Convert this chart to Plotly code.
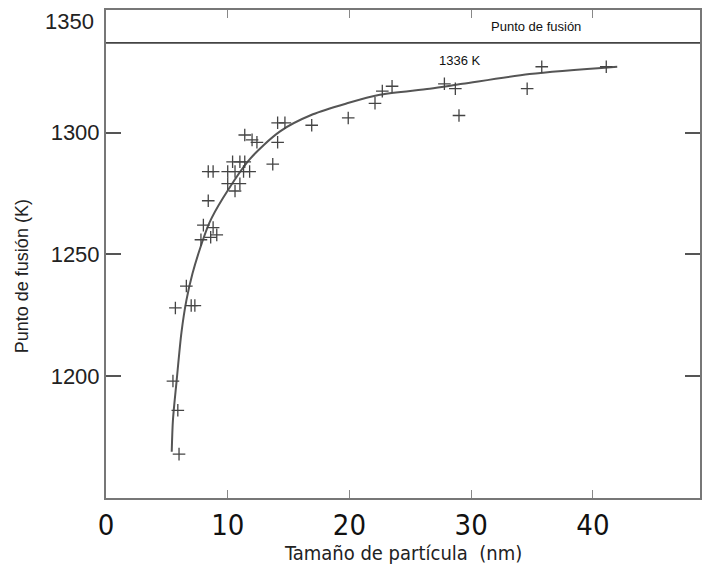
import plotly.graph_objects as go

# Measured points (particle size nm, melting point K)
size_nm = [5.5, 5.9, 6.0, 5.7, 6.6, 7.0, 7.3, 7.8, 8.4, 8.8, 8.0, 8.6, 9.1,
           8.4, 8.8, 10.0, 10.6, 11.3, 11.8, 10.4, 11.0, 11.4, 10.0, 11.0, 10.6,
           13.7, 11.4, 12.0, 12.4, 14.1, 14.7, 14.1, 16.9, 19.9, 22.1, 22.7, 23.5,
           27.8, 28.7, 29.0, 34.6, 35.8, 41.1]
melt_K = [1198, 1186, 1168, 1228, 1237, 1229, 1229, 1256, 1272, 1261, 1262, 1257, 1258,
          1284, 1284, 1284, 1284, 1284, 1284, 1288, 1288, 1288, 1279, 1279, 1276,
          1287, 1299, 1297, 1296, 1304, 1304, 1296, 1303, 1306, 1312, 1317, 1319,
          1320, 1318, 1307, 1318, 1327, 1327]

# Fitted curve
fit_x = [5.4, 5.5, 5.8, 6.2, 6.6, 7.1, 7.7, 8.5, 9.6, 11.8, 14.3, 17.0, 19.8, 22.5, 26.6, 29.3, 34.8, 42.0]
fit_y = [1169, 1182, 1198, 1218, 1231, 1242, 1252, 1263, 1273, 1289, 1300.5, 1307.5, 1312, 1315.5, 1318, 1320, 1324, 1327]

bulk_melting_K = 1336.8
x_ticks = [0, 10, 20, 30, 40]
y_ticks = [1200, 1250, 1300, 1350]
y_tick_text = ["1200", "1250", "1300", ""]  # top label drawn slightly lower, as in the source
top_label = "1350"

narrow = "Liberation Sans Narrow, DejaVu Sans Condensed, Arial Narrow, sans-serif"
yfont = dict(family="Liberation Sans, Arial, sans-serif", size=22, color="#222222")

fig = go.Figure()
fig.add_trace(go.Scatter(x=[0, 48.8], y=[bulk_melting_K, bulk_melting_K], mode="lines",
                         line=dict(color="#444444", width=1.6), hoverinfo="skip"))
fig.add_trace(go.Scatter(x=fit_x, y=fit_y, mode="lines", line=dict(color="#555555", width=2, shape="spline", smoothing=0.8)))
fig.add_trace(go.Scatter(x=size_nm, y=melt_K, mode="markers",
                         marker=dict(symbol="cross-thin", size=9, line=dict(color="#444444", width=1.3))))

fig.update_layout(
    width=702, height=575, showlegend=False,
    paper_bgcolor="white", plot_bgcolor="white",
    margin=dict(l=106, r=2, t=10, b=77),
    font=dict(family="Liberation Sans, Arial, sans-serif", color="#222222"),
)
fig.update_xaxes(range=[0, 48.8], tickvals=x_ticks, ticks="inside", ticklen=8, tickwidth=1.2,
                 tickcolor="#888888", showline=True, linecolor="#777777", linewidth=2, mirror="ticks",
                 showgrid=False, zeroline=False, automargin=False,
                 tickfont=dict(family=narrow, size=29, color="#111111"))
fig.update_yaxes(range=[1150, 1350.3], tickvals=y_ticks, ticktext=y_tick_text, ticks="inside", ticklen=15, tickwidth=1.5,
                 tickcolor="#555555", showline=True, linecolor="#777777", linewidth=2, mirror="ticks",
                 showgrid=False, zeroline=False, automargin=False, tickfont=yfont)

fig.add_annotation(text=top_label, xref="paper", yref="y", x=-0.016, y=y_ticks[-1], xanchor="right",
                   yanchor="middle", yshift=-11, showarrow=False, font=yfont)
fig.add_annotation(text="Tamaño de partícula  (nm)", xref="paper", yref="paper", x=0.5, y=-0.112,
                   showarrow=False, yanchor="middle",
                   font=dict(family=narrow, size=20, color="#222222"))
fig.add_annotation(text="Punto de fusión (K)", xref="paper", yref="paper", x=-0.141, xanchor="center",
                   y=0.455, yanchor="middle", textangle=-90, showarrow=False,
                   font=dict(family="Liberation Sans, Arial, sans-serif", size=18, color="#222222"))
fig.add_annotation(text="Punto de fusión", x=35.3, y=1343.5, showarrow=False,
                   font=dict(family="Liberation Sans, Arial, sans-serif", size=13, color="#111111"))
fig.add_annotation(text="1336 K", x=29.1, y=1329.6, showarrow=False,
                   font=dict(family="Liberation Sans, Arial, sans-serif", size=13, color="#111111"))

fig.write_html("out.html")
